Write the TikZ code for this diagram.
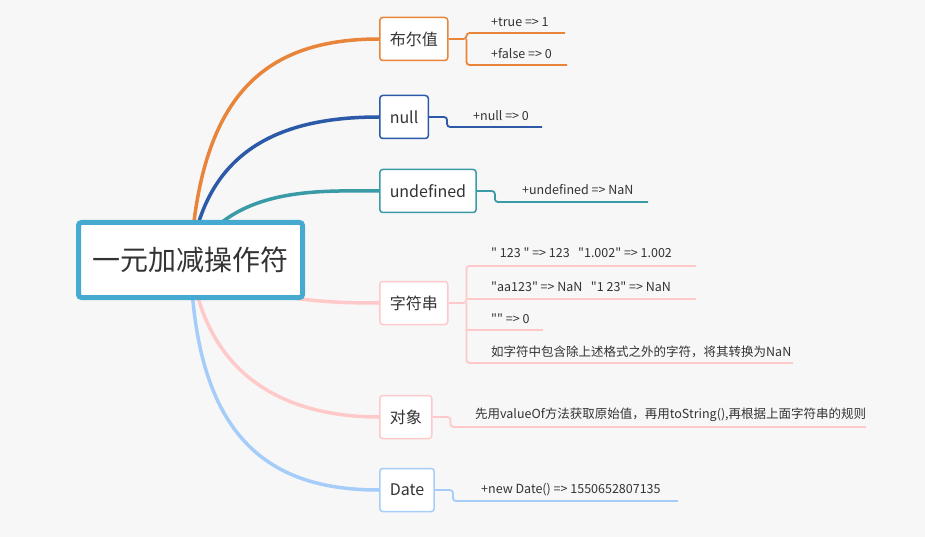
\documentclass[tikz,border=0pt]{standalone}
\usepackage{fontspec}
\setmainfont{Noto Sans CJK SC}[Ligatures=TeXOff]
\usetikzlibrary{positioning,backgrounds}
\definecolor{bgC}{HTML}{F7F7F7}
\definecolor{txtC}{HTML}{333333}
\definecolor{hubC}{HTML}{46A9CF}
\definecolor{orgC}{HTML}{E9853A}
\definecolor{navC}{HTML}{2C5AA8}
\definecolor{tealC}{HTML}{3A9AA6}
\definecolor{pinkC}{HTML}{FFC9C9}
\definecolor{skyC}{HTML}{A6CDFA}

\begin{document}
\begin{tikzpicture}[
  x=1pt, y=-1pt,
  every node/.style={text=txtC},
  hub/.style={draw=hubC, line width=5pt, rounded corners=3pt, fill=white, minimum width=224pt, minimum height=75pt, font=\fontsize{28}{30}\selectfont},
  br/.style={draw=#1, line width=1.5pt, rounded corners=3pt, fill=white, anchor=west, minimum height=43pt, inner xsep=10pt, font=\fontsize{16}{18}\selectfont},
  lf/.style={anchor=west, inner sep=0pt, font=\fontsize{12.5}{14}\selectfont},
  cv/.style={draw=#1, line width=3.5pt},
  ln/.style={draw=#1, line width=1.8pt, rounded corners=3pt}
]
  % root
  \node[hub] (hub) at (190.5,260) {一元加减操作符};

  % branches
  \node[br=orgC] (bool) at (379,39) {布尔值};
  \node[br=navC] (nul) at (379,117) {null};
  \node[br=tealC] (und) at (379,191) {undefined};
  \node[br=pinkC] (str) at (379,303) {字符串};
  \node[br=pinkC] (obj) at (379,417) {对象};
  \node[br=skyC] (dat) at (379,490) {Date};

  \begin{scope}[on background layer]
    \fill[bgC] (0,0) rectangle (925,537);
    \draw[cv=orgC] (hub.center) .. controls (200,100) and (260,39) .. (bool.west);
    \draw[cv=navC] (hub.center) .. controls (205,150) and (280,117) .. (nul.west);
    \draw[cv=tealC] (hub.center) .. controls (230,185) and (320,191) .. (und.west);
    \draw[cv=pinkC] (hub.center) .. controls (250,300) and (320,303) .. (str.west);
    \draw[cv=pinkC] (hub.center) .. controls (205,380) and (290,417) .. (obj.west);
    \draw[cv=skyC] (hub.center) .. controls (195,440) and (270,490) .. (dat.west);
  \end{scope}

  % leaves
  \node[lf] (tru) at (491,22) {+true => 1};
  \node[lf] (fls) at (491,54) {+false => 0};
  \node[lf] (nl0) at (473,116) {+null => 0};
  \node[lf] (un0) at (522,190) {+undefined => NaN};
  \node[lf] (s1) at (491,253) {" 123 " => 123 \ \ "1.002" => 1.002};
  \node[lf] (s2) at (491,287) {"aa123" => NaN \ \ "1 23" => NaN};
  \node[lf] (s3) at (491,319) {"" => 0};
  \node[lf] (s4) at (491,352) {如字符中包含除上述格式之外的字符，将其转换为NaN};
  \node[lf] (ob0) at (475,415) {先用valueOf方法获取原始值，再用toString(),再根据上面字符串的规则};
  \node[lf] (dt0) at (481,490) {+new Date() => 1550652807135};

  % underline ends
  \coordinate (true) at (565,33);
  \coordinate (flse) at (567,65);
  \coordinate (nl0e) at (542,127);
  \coordinate (un0e) at (648,202);
  \coordinate (s1e) at (696,266);
  \coordinate (s2e) at (696,299);
  \coordinate (s3e) at (543,330);
  \coordinate (s4e) at (793,363);
  \coordinate (ob0e) at (866,427);
  \coordinate (dt0e) at (678,501);

  % links
  \draw[ln=orgC] (bool.east) -- ++(18,0) coordinate (boolJ) |- (true);
  \draw[ln=orgC] (boolJ) |- (flse);
  \draw[ln=navC] (nul.east) -- ++(18,0) |- (nl0e);
  \draw[ln=tealC] (und.east) -- ++(18,0) |- (un0e);
  \draw[ln=pinkC] (str.east) -- ++(18,0) coordinate (strJ) |- (s1e);
  \draw[ln=pinkC] (strJ) |- (s4e);
  \draw[ln=pinkC] (strJ |- s2e) -- (s2e);
  \draw[ln=pinkC] (strJ |- s3e) -- (s3e);
  \draw[ln=pinkC] (obj.east) -- ++(18,0) |- (ob0e);
  \draw[ln=skyC] (dat.east) -- ++(18,0) |- (dt0e);
\end{tikzpicture}
\end{document}
